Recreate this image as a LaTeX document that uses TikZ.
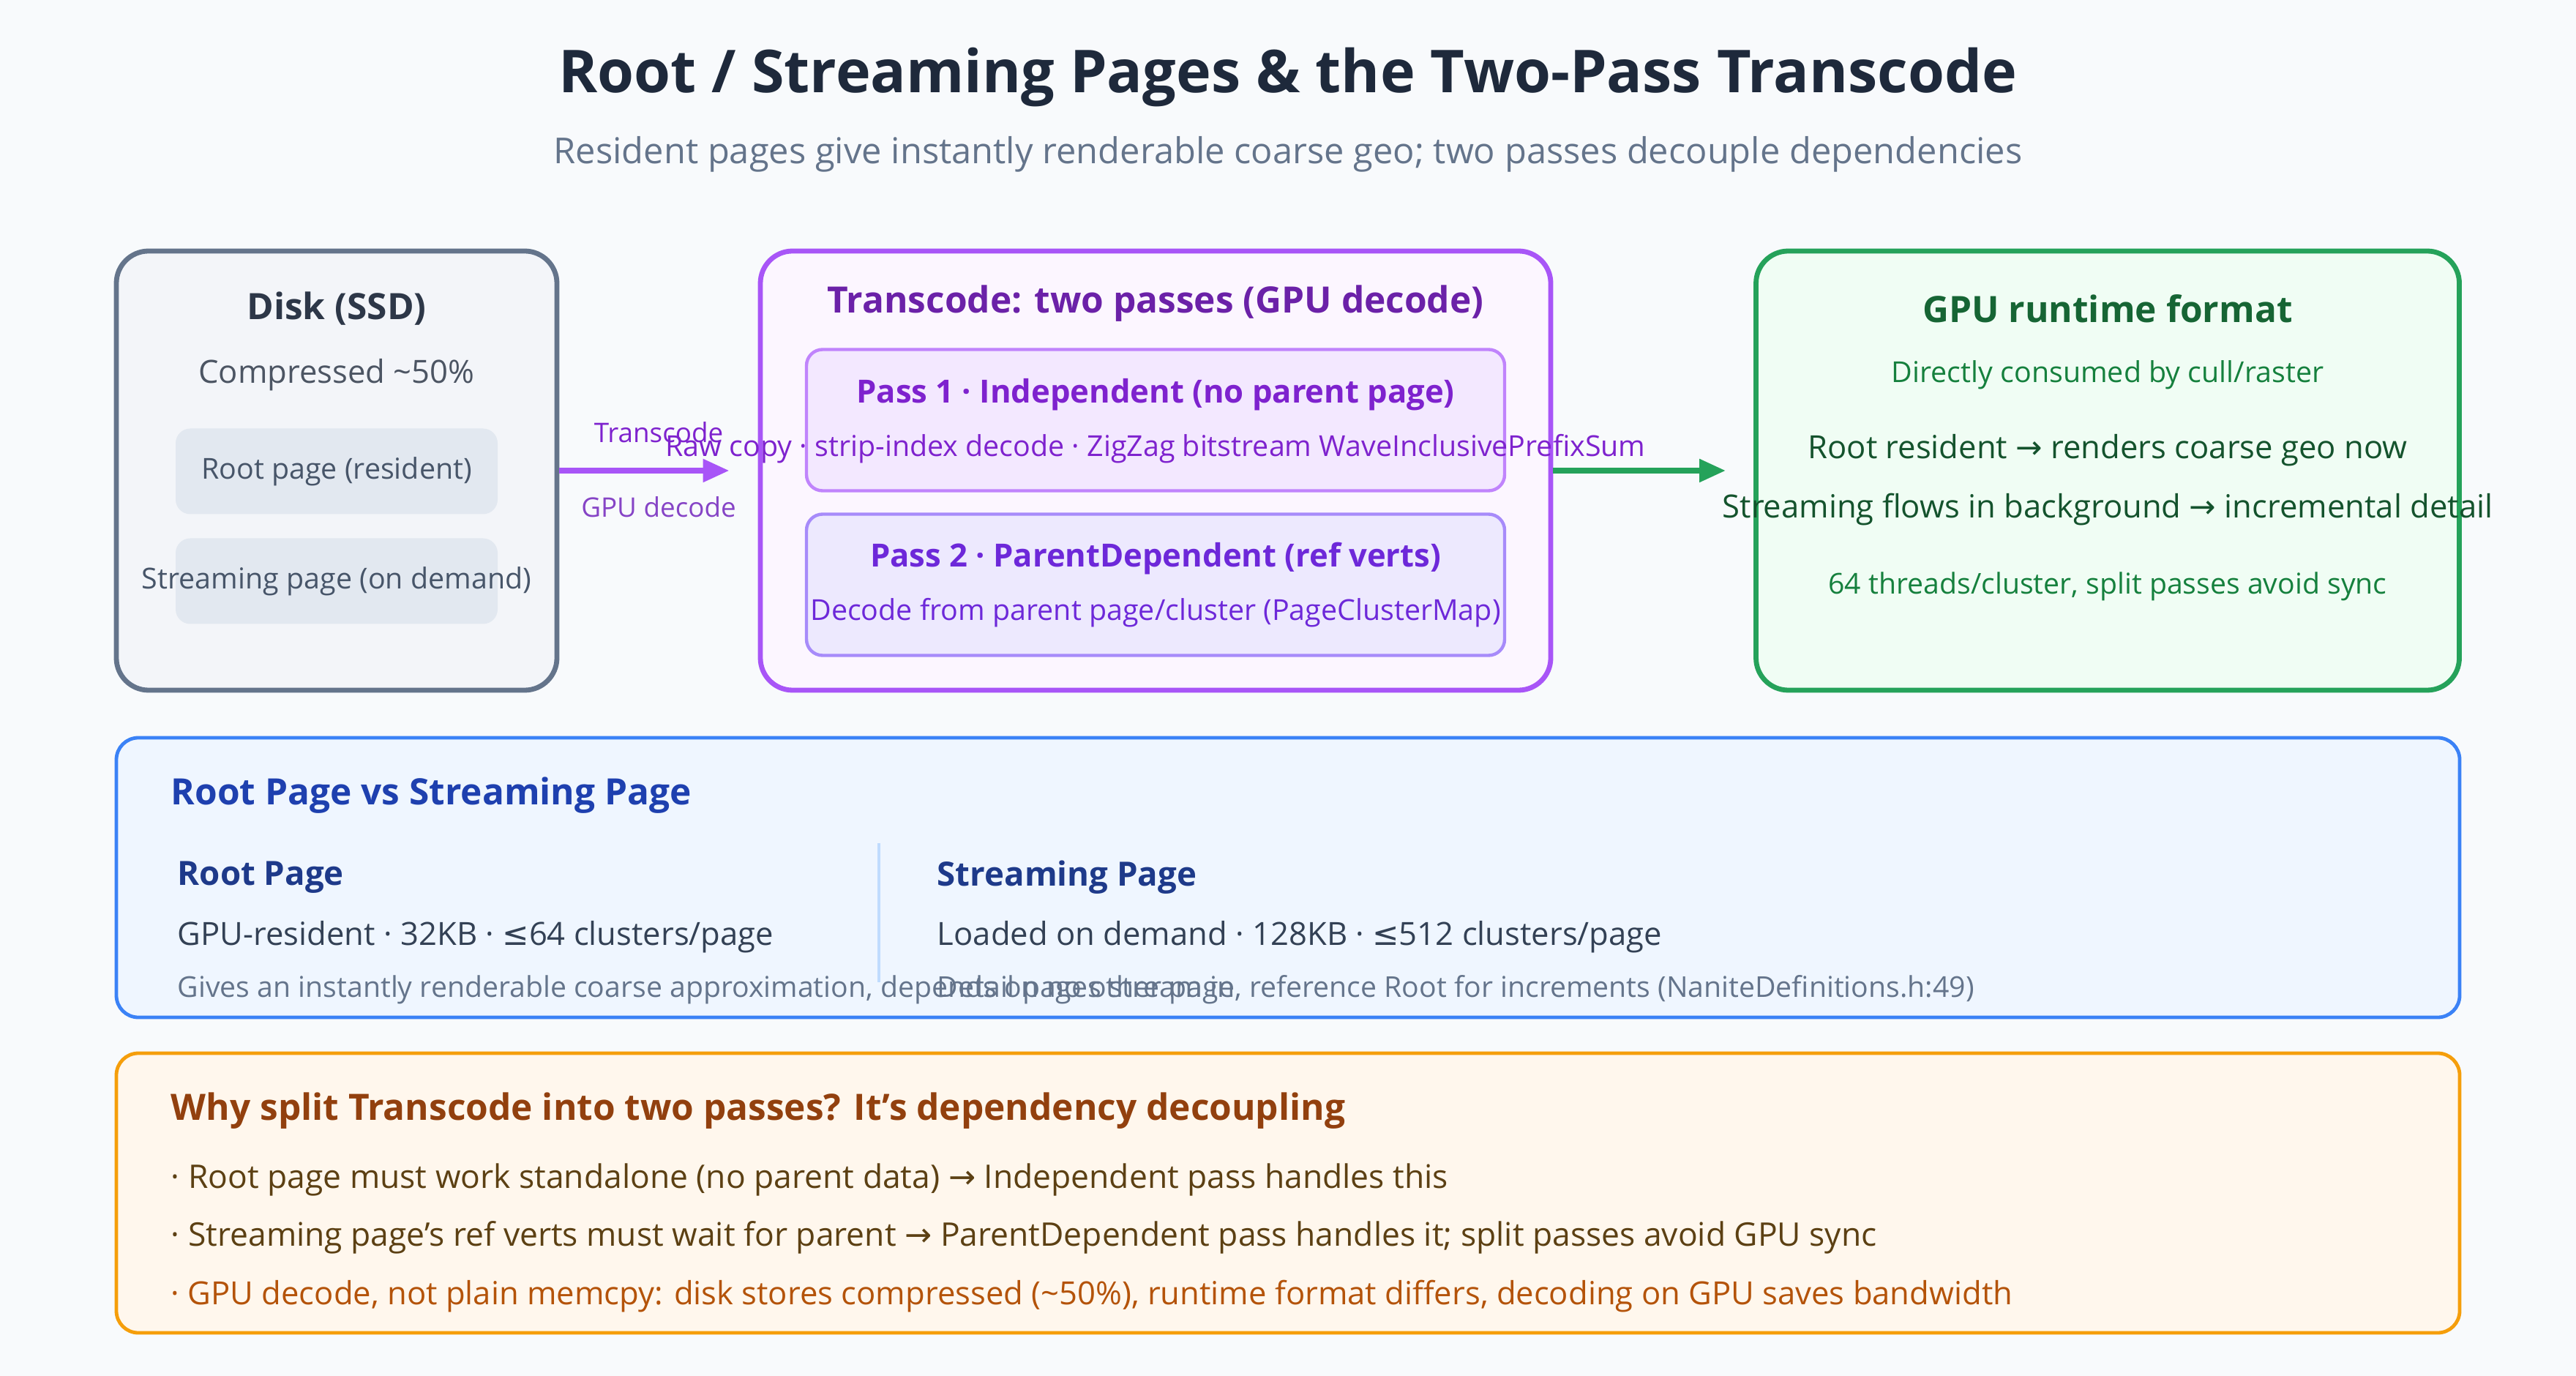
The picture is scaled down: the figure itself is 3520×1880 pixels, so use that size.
\documentclass[tikz,border=0pt]{standalone}
\usepackage{fontspec}
\setmainfont{Open Sans}
\newfontfamily\symfont{DejaVu Sans}
\usetikzlibrary{arrows.meta,positioning}

\definecolor{bg}{HTML}{F8FAFC}
\definecolor{ink}{HTML}{1E293B}
\definecolor{mute}{HTML}{64748B}
\definecolor{diskline}{HTML}{64748B}
\definecolor{diskfill}{HTML}{F3F5F9}
\definecolor{disktext}{HTML}{2D3748}
\definecolor{pagefill}{HTML}{E2E8F0}
\definecolor{pagetext}{HTML}{475569}
\definecolor{purp}{HTML}{A855F7}
\definecolor{purpfill}{HTML}{FCF6FF}
\definecolor{purpdark}{HTML}{6B21A8}
\definecolor{passAfill}{HTML}{F3E8FF}
\definecolor{passAline}{HTML}{C084FC}
\definecolor{passAtext}{HTML}{7E22CE}
\definecolor{passBfill}{HTML}{EDE9FE}
\definecolor{passBline}{HTML}{A78BFA}
\definecolor{passBtext}{HTML}{6D28D9}
\definecolor{grn}{HTML}{25A25A}
\definecolor{grnfill}{HTML}{F0FDF4}
\definecolor{grntitle}{HTML}{166534}
\definecolor{grnlight}{HTML}{15803D}
\definecolor{grndark}{HTML}{14532D}
\definecolor{blu}{HTML}{3B82F6}
\definecolor{blufill}{HTML}{EFF6FF}
\definecolor{blutitle}{HTML}{1E40AF}
\definecolor{bluhead}{HTML}{1E3A8A}
\definecolor{blutext}{HTML}{334155}
\definecolor{bludiv}{HTML}{BFDBFE}
\definecolor{org}{HTML}{F59E0B}
\definecolor{orgfill}{HTML}{FFF7ED}
\definecolor{orgtitle}{HTML}{92400E}
\definecolor{orgtext}{HTML}{5C4013}
\definecolor{orglight}{HTML}{B45309}

\newcommand{\toarr}{{\symfont →}}
\newcommand{\leqsym}{{\symfont ≤}}

\begin{document}
\begin{tikzpicture}[x=0.25pt, y=-0.25pt,
    panel/.style = {draw, rounded corners=11pt, line width=1.7pt},
    band/.style = {draw, rounded corners=7.5pt, line width=1.2pt},
    passbox/.style = {draw, rounded corners=5.5pt, line width=1.1pt},
    pagebox/.style = {fill=pagefill, rounded corners=5pt},
    hd/.style = {font=\fontsize{12.4}{14}\selectfont\bfseries, inner sep=0pt},
    sub/.style = {font=\fontsize{10.9}{12}\selectfont\bfseries, inner sep=0pt},
    colhd/.style = {font=\fontsize{11.4}{13}\selectfont\bfseries, inner sep=0pt},
    body/.style = {font=\fontsize{10.9}{12}\selectfont, inner sep=0pt},
    bullet/.style = {font=\fontsize{11.1}{12}\selectfont, inner sep=0pt},
    small/.style = {font=\fontsize{9.85}{12}\selectfont, inner sep=0pt},
    tiny/.style = {font=\fontsize{9.8}{11}\selectfont, inner sep=0pt},
    lbl/.style = {font=\fontsize{9.2}{11}\selectfont, inner sep=0pt},
    flow/.style = {line width=2pt, -{Triangle[length=9pt, width=7.5pt]}}]

    \fill[bg] (0,0) rectangle (3520,1880);

    \node[font=\fontsize{20.2}{24}\selectfont\bfseries, text=ink] (title) at (1760,106) {Root / Streaming Pages \& the Two-Pass Transcode};
    \node[font=\fontsize{12.2}{14}\selectfont, text=mute] (subtitle) at (1760,211) {Resident pages give instantly renderable coarse geo; two passes decouple dependencies};

    % disk
    \node[panel, draw=diskline, fill=diskfill, minimum width=150.5pt, minimum height=150pt] (disk) at (460,643) {};
    \node[hd, text=disktext] (disktitle) at (460,422) {Disk (SSD)};
    \node[body, text=disktext!85!white] (diskcomp) at (460,512) {Compressed \textasciitilde 50\%};
    \node[pagebox, minimum width=110pt, minimum height=29.25pt] (rootpg) at (460,644) {};
    \node[small, text=pagetext] at (rootpg) {Root page (resident)};
    \node[pagebox, minimum width=110pt, minimum height=29.25pt] (streampg) at (460,794) {};
    \node[small, text=pagetext] at (streampg) {Streaming page (on demand)};

    % transcode
    \node[panel, draw=purp, fill=purpfill, minimum width=270pt, minimum height=150pt] (trans) at (1579,643) {};
    \node[hd, text=purpdark] (transtitle) at (1579,415) {Transcode: two passes (GPU decode)};
    \node[passbox, draw=passAline, fill=passAfill, minimum width=238.5pt, minimum height=48.25pt] (passA) at (1579,574) {};
    \node[sub, text=passAtext] (passAtitle) at (1579,539) {Pass 1 · Independent (no parent page)};
    \node[small, text=passAtext] (passAnote) at (1579,613) {Raw copy · strip-index decode · ZigZag bitstream WaveInclusivePrefixSum};
    \node[passbox, draw=passBline, fill=passBfill, minimum width=238.5pt, minimum height=48.25pt] (passB) at (1579,799) {};
    \node[sub, text=passBtext] (passBtitle) at (1579,763) {Pass 2 · ParentDependent (ref verts)};
    \node[small, text=passBtext] (passBnote) at (1579,837) {Decode from parent page/cluster (PageClusterMap)};

    % gpu runtime
    \node[panel, draw=grn, fill=grnfill, minimum width=240.25pt, minimum height=150pt] (gpu) at (2880,643) {};
    \node[hd, text=grntitle] (gputitle) at (2880,422) {GPU runtime format};
    \node[small, text=grnlight] (gpucons) at (2880,512) {Directly consumed by cull/raster};
    \node[body, text=grndark] (gpuroot) at (2880,615) {Root resident \toarr{} renders coarse geo now};
    \node[body, text=grndark] (gpustream) at (2880,696) {Streaming flows in background \toarr{} incremental detail};
    \node[tiny, text=grnlight] (gputhreads) at (2880,801) {64 threads/cluster, split passes avoid sync};

    % flows
    \draw[flow, draw=purp, shorten >=9.75pt] (disk) -- node[above=8.5pt, lbl, text=passAtext] (lbltrans) {Transcode} node[below=8pt, lbl, text=purp!80!black] (lblgpu) {GPU decode} (trans);
    \draw[flow, draw=grn, shorten >=9.5pt] (trans) -- (gpu);

    % root vs streaming
    \node[band, draw=blu, fill=blufill, minimum width=800.5pt, minimum height=95.5pt] (cmp) at (1760,1199) {};
    \node[hd, text=blutitle, anchor=west] (cmptitle) at (233,1087) {Root Page vs Streaming Page};
    \draw[bludiv, line width=0.8pt] (1201,1152) -- (1201,1342);
    \node[colhd, text=bluhead, anchor=west] (roothead) at (242,1199) {Root Page};
    \node[body, text=blutext, anchor=west] (rootspec) at (242,1280) {GPU-resident · 32KB · \leqsym64 clusters/page};
    \node[tiny, text=mute, anchor=west] (rootnote) at (242,1352) {Gives an instantly renderable coarse approximation, depends on no other page};
    \node[colhd, text=bluhead, anchor=west] (streamhead) at (1280,1199) {Streaming Page};
    \node[body, text=blutext, anchor=west] (streamspec) at (1280,1280) {Loaded on demand · 128KB · \leqsym512 clusters/page};
    \node[tiny, text=mute, anchor=west] (streamnote) at (1280,1352) {Detail pages stream in, reference Root for increments (NaniteDefinitions.h:49)};

    % why two passes
    \node[band, draw=org, fill=orgfill, minimum width=800.5pt, minimum height=95.5pt] (why) at (1760,1630) {};
    \node[hd, text=orgtitle, anchor=west] (whytitle) at (233,1518) {Why split Transcode into two passes? It's dependency decoupling};
    \node[bullet, text=orgtext, anchor=west] (whyA) at (233,1612) {· Root page must work standalone (no parent data) \toarr{} Independent pass handles this};
    \node[bullet, text=orgtext, anchor=west] (whyB) at (233,1691) {· Streaming page's ref verts must wait for parent \toarr{} ParentDependent pass handles it; split passes avoid GPU sync};
    \node[body, text=orglight, anchor=west] (whyC) at (233,1771) {· GPU decode, not plain memcpy: disk stores compressed (\textasciitilde 50\%), runtime format differs, decoding on GPU saves bandwidth};
\end{tikzpicture}
\end{document}
